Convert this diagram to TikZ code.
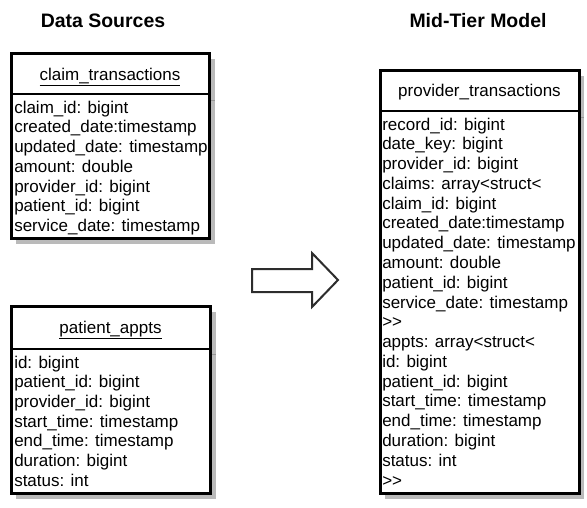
\documentclass[tikz,border=0pt]{standalone}
\usepackage{fontspec}
\setmainfont{Liberation Sans}
\usepackage{tikz}
\usetikzlibrary{arrows.meta}
\usepackage{xcolor}

\definecolor{shadowgray}{RGB}{186,186,186}
\definecolor{sepgray}{RGB}{150,150,150}
\definecolor{arrowgray}{RGB}{45,45,45}
\newcommand{\closeagg}{>\kern0pt>}
\tikzset{
  shadowbox/.style={fill=shadowgray, draw=none},
  tablebox/.style={draw=black, fill=white, line width=2.25pt},
  sepline/.style={draw=black, line width=2pt},
  sepshadow/.style={draw=sepgray, line width=0.75pt},
  headtext/.style={anchor=base, inner sep=0pt, font=\fontsize{14.6}{17}\selectfont\bfseries},
  tabletitle/.style={anchor=base, inner sep=0pt, font=\fontsize{12.75}{14.8}\selectfont},
  fieldtext/.style={anchor=base west, inner sep=0pt, font=\fontsize{12.75}{14.8}\selectfont},
}

\begin{document}
\begin{tikzpicture}[x=0.75pt,y=0.75pt,yscale=-1,xscale=1]
\path (0,0) rectangle (587,508); %set diagram size 587 x 508

% Headings
\node [headtext] (srchead) at (103,27) {Data Sources};
\node [headtext] (midhead) at (478,27) {Mid-Tier Model};

%Shape: claim_transactions table
\fill [shadowbox] (16,59) rectangle (215,244);
\draw [sepshadow] (209,100) -- (215,100);
\draw [tablebox] (11,53) rectangle (209,238);
\draw [sepline] (11,94) -- (209,94);
\node [tabletitle] (claimtitle) at (110,80) {\underline{claim\_transactions}};
\foreach \txt [count=\i] in {claim\_id: bigint, created\_date:timestamp, updated\_date: timestamp,
    amount: double, provider\_id: bigint, patient\_id: bigint, service\_date: timestamp}
  \node [fieldtext] (claim\i) at (14,{113+(\i-1)*19.75}) {\txt};

%Shape: patient_appts table
\fill [shadowbox] (16,312) rectangle (216,499);
\draw [sepshadow] (210,354) -- (216,354);
\draw [tablebox] (11,306) rectangle (210,493);
\draw [sepline] (11,349) -- (210,349);
\node [tabletitle] (apptstitle) at (110.5,333) {\underline{patient\_appts}};
\foreach \txt [count=\i] in {id: bigint, patient\_id: bigint, provider\_id: bigint,
    start\_time: timestamp, end\_time: timestamp, duration: bigint, status: int}
  \node [fieldtext] (appts\i) at (14,{368+(\i-1)*19.67}) {\txt};

%Shape: Block arrow
\draw [draw=arrowgray, fill=white, line width=1.5pt, line join=miter]
  (252,269) -- (312,269) -- (312,253) -- (338,280) -- (312,307) -- (312,292) -- (252,292) -- cycle;

%Shape: provider_transactions table
\fill [shadowbox] (385,76) rectangle (584,499);
\draw [sepshadow] (579,117) -- (584,117);
\draw [tablebox] (380,70) rectangle (579,493);
\draw [sepline] (380,111) -- (579,111);
\node [tabletitle] (provtitle) at (479.5,96) {provider\_transactions};
\foreach \txt [count=\i] in {record\_id: bigint, date\_key: bigint, provider\_id: bigint,
    claims: array<struct<, claim\_id: bigint, created\_date:timestamp, updated\_date: timestamp,
    amount: double, patient\_id: bigint, service\_date: timestamp, \closeagg,
    appts: array<struct<, id: bigint, patient\_id: bigint, start\_time: timestamp,
    end\_time: timestamp, duration: bigint, status: int, \closeagg}
  \node [fieldtext] (prov\i) at (382,{130+(\i-1)*19.78}) {\txt};

\end{tikzpicture}
\end{document}
